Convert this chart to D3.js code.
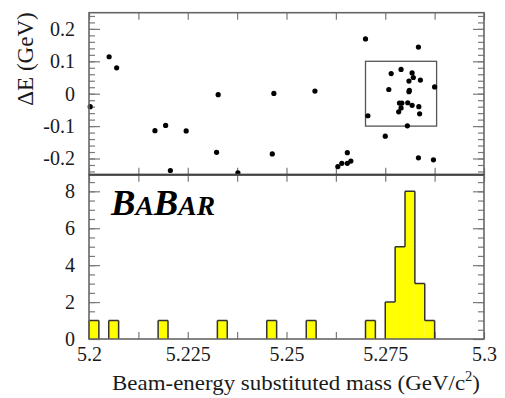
<!DOCTYPE html>
<html><head><meta charset="utf-8">
<script src="https://cdn.jsdelivr.net/npm/d3@7"></script>
<style>body{margin:0;background:#fff}svg{display:block}</style>
</head><body>
<svg id="c" width="505" height="398"></svg>
<script>
// ---- data ----
const massVals = [5.2003,5.2051,5.2070,5.2167,5.2194,5.2206,5.2246,5.2327,5.2323,5.2377,
  5.2468,5.2464,5.2572,5.2654,5.2630,5.2640,5.2654,5.2663,5.2834,5.2872,
  5.2700,5.2834,5.2750,5.2765,5.2790,5.2818,5.2821,5.2810,5.2839,5.2875,
  5.2759,5.2810,5.2811,5.2786,5.2792,5.2807,5.2818,5.2835,5.2790,5.2784,
  5.2837,5.2706,5.2806];
const deltaE = [-0.040,0.114,0.080,-0.114,-0.098,-0.237,-0.115,-0.003,-0.181,-0.244,
  0.001,-0.186,0.008,-0.182,-0.225,-0.215,-0.215,-0.208,-0.198,-0.204,
  0.169,0.144,-0.131,0.062,0.075,0.064,0.050,0.039,0.042,0.021,
  0.013,0.006,0.010,-0.029,-0.029,-0.028,-0.036,-0.040,-0.044,-0.056,
  -0.062,-0.068,-0.099];
const histStart = 5.2, histBinWidth = 0.0025;
const histCounts = [1,0,1,0,0,0,0,1,0,0, 0,0,0,1,0,0,0,0,1,0,
                    0,0,1,0,0,0,0,0,1,0, 2,5,8,3,1,0,0,0,0,0];
const xTickLabels = [5.2,5.225,5.25,5.275,5.3];
const topYTicks = [0.2,0.1,0,-0.1,-0.2];
const botYTicks = [0,2,4,6,8];
const boxMass = [5.27,5.288];
const boxDE = [-0.1,0.1];

// ---- layout ----
const svg = d3.select('#c');
const L=89, R=484, T=12.7, M=174.7, B=339;
const x = d3.scaleLinear([5.2,5.3],[L,R]);
const yT = d3.scaleLinear([-0.25,0.25],[M,T]);
const yB = d3.scaleLinear([0,8.9],[B,M]);
const grey = '#7a7a7a';
const font = '"Liberation Serif", "Times New Roman", serif';
const ink = '#1a1a1a';

const xTickAll = d3.range(0,9).map(i=>5.2+i*0.0125);

function tk(g, axis, labelled){
  g.call(axis);
  g.select('.domain').remove();
  g.selectAll('line').attr('stroke',grey).attr('stroke-width',1.2);
  g.selectAll('text').attr('font-family',font).attr('font-size',20).attr('fill',ink);
  if(!labelled) g.selectAll('text').remove();
  return g;
}

// Top panel ticks
tk(svg.append('g').attr('transform',`translate(0,${M})`), d3.axisBottom(x).tickValues(xTickAll).tickSize(-7));
tk(svg.append('g').attr('transform',`translate(0,${T})`), d3.axisTop(x).tickValues(xTickAll).tickSize(-7));
tk(svg.append('g').attr('transform',`translate(${L},0)`),
   d3.axisLeft(yT).tickValues(topYTicks).tickSize(-11).tickPadding(14).tickFormat(d=>String(d)), true);
tk(svg.append('g').attr('transform',`translate(${L},0)`),
   d3.axisLeft(yT).tickValues(d3.range(-12,13).map(i=>i*0.02)).tickSize(-6));
tk(svg.append('g').attr('transform',`translate(${R},0)`),
   d3.axisRight(yT).tickValues(topYTicks).tickSize(-11));
tk(svg.append('g').attr('transform',`translate(${R},0)`),
   d3.axisRight(yT).tickValues(d3.range(-12,13).map(i=>i*0.02)).tickSize(-6));

// Bottom panel ticks
tk(svg.append('g').attr('transform',`translate(0,${B})`), d3.axisBottom(x).tickValues(xTickAll).tickSize(-7));
tk(svg.append('g').attr('transform',`translate(0,${B})`),
   d3.axisBottom(x).tickValues(xTickLabels).tickSize(0).tickPadding(8).tickFormat(d=>String(d)), true);
tk(svg.append('g').attr('transform',`translate(0,${M})`), d3.axisTop(x).tickValues(xTickAll).tickSize(-7));
tk(svg.append('g').attr('transform',`translate(${L},0)`),
   d3.axisLeft(yB).tickValues(botYTicks).tickSize(-11).tickPadding(14).tickFormat(d=>String(d)), true);
tk(svg.append('g').attr('transform',`translate(${L},0)`),
   d3.axisLeft(yB).tickValues(d3.range(1,18).map(i=>i*0.5)).tickSize(-6));
tk(svg.append('g').attr('transform',`translate(${R},0)`),
   d3.axisRight(yB).tickValues(botYTicks).tickSize(-11));
tk(svg.append('g').attr('transform',`translate(${R},0)`),
   d3.axisRight(yB).tickValues(d3.range(1,18).map(i=>i*0.5)).tickSize(-6));

// Histogram: filled steps with an outline around each run of filled bins
const bins = histCounts.map((c,i)=>({x0:histStart+i*histBinWidth, x1:histStart+(i+1)*histBinWidth, c}));
svg.append('g').selectAll('rect').data(bins.filter(b=>b.c>0)).join('rect')
  .attr('x',d=>x(d.x0)).attr('width',d=>x(d.x1)-x(d.x0))
  .attr('y',d=>yB(d.c)).attr('height',d=>yB(0)-yB(d.c))
  .attr('fill','#ffff00').attr('stroke','none');
// outline path (step)
let pathD = '';
let prev = 0;
bins.forEach((b,i)=>{
  if(b.c!==prev){
    pathD += (pathD==='' ? `M${x(b.x0)},${yB(prev)}` : `M${x(b.x0)},${yB(prev)}`) + `L${x(b.x0)},${yB(b.c)}`;
  }
  if(b.c>0) pathD += `M${x(b.x0)},${yB(b.c)}L${x(b.x1)},${yB(b.c)}`;
  prev = b.c;
});
svg.append('path').attr('d',pathD).attr('fill','none').attr('stroke','#333').attr('stroke-width',1.5);

// Signal box
svg.append('rect')
  .attr('x',x(boxMass[0])).attr('width',x(boxMass[1])-x(boxMass[0]))
  .attr('y',yT(boxDE[1])).attr('height',yT(boxDE[0])-yT(boxDE[1]))
  .attr('fill','none').attr('stroke','#555').attr('stroke-width',1.3);

// Scatter points
svg.append('g').selectAll('circle').data(massVals.map((m,i)=>[m,deltaE[i]])).join('circle')
  .attr('cx',d=>x(d[0])).attr('cy',d=>yT(d[1])).attr('r',2.6).attr('fill','#000');

// Frames
svg.append('rect').attr('x',L).attr('y',T).attr('width',R-L).attr('height',M-T)
  .attr('fill','none').attr('stroke','#666').attr('stroke-width',1.6);
svg.append('rect').attr('x',L).attr('y',M).attr('width',R-L).attr('height',B-M)
  .attr('fill','none').attr('stroke','#666').attr('stroke-width',1.6);
svg.append('line').attr('x1',L).attr('x2',R).attr('y1',M).attr('y2',M)
  .attr('stroke','#444').attr('stroke-width',2);

// BaBar logo
const logo = svg.append('text').attr('x',111).attr('y',214.5)
  .attr('font-family',font).attr('font-weight','bold').attr('font-style','italic')
  .attr('textLength',104).attr('lengthAdjust','spacingAndGlyphs');
logo.append('tspan').attr('font-size',36).text('B');
logo.append('tspan').attr('font-size',27).text('A');
logo.append('tspan').attr('font-size',36).text('B');
logo.append('tspan').attr('font-size',27).text('AR');

// Axis titles
svg.append('text').attr('transform','translate(33,59) rotate(-90)')
  .attr('text-anchor','middle').attr('font-family',font).attr('font-size',23).attr('fill',ink)
  .text('ΔE (GeV)');

svg.append('clipPath').attr('id','clipY').append('rect').attr('x',0).attr('y',176).attr('width',90).attr('height',222);
const ylab = svg.append('text').attr('clip-path','url(#clipY)')
  .attr('transform','translate(33,354) rotate(-90)')
  .attr('text-anchor','start').attr('font-family',font).attr('font-size',23).attr('fill',ink);
ylab.append('tspan').text('Entries/2.5 MeV/c');
ylab.append('tspan').attr('font-size',15).attr('dy',-9).text('2');

const xlab = svg.append('text').attr('x',112).attr('y',390)
  .attr('text-anchor','start').attr('font-family',font).attr('font-size',22).attr('fill',ink)
  .attr('textLength',368).attr('lengthAdjust','spacingAndGlyphs');
xlab.append('tspan').text('Beam-energy substituted mass (GeV/c');
xlab.append('tspan').attr('font-size',14).attr('dy',-9).text('2');
xlab.append('tspan').attr('dy',9).text(')');
</script>
</body></html>
